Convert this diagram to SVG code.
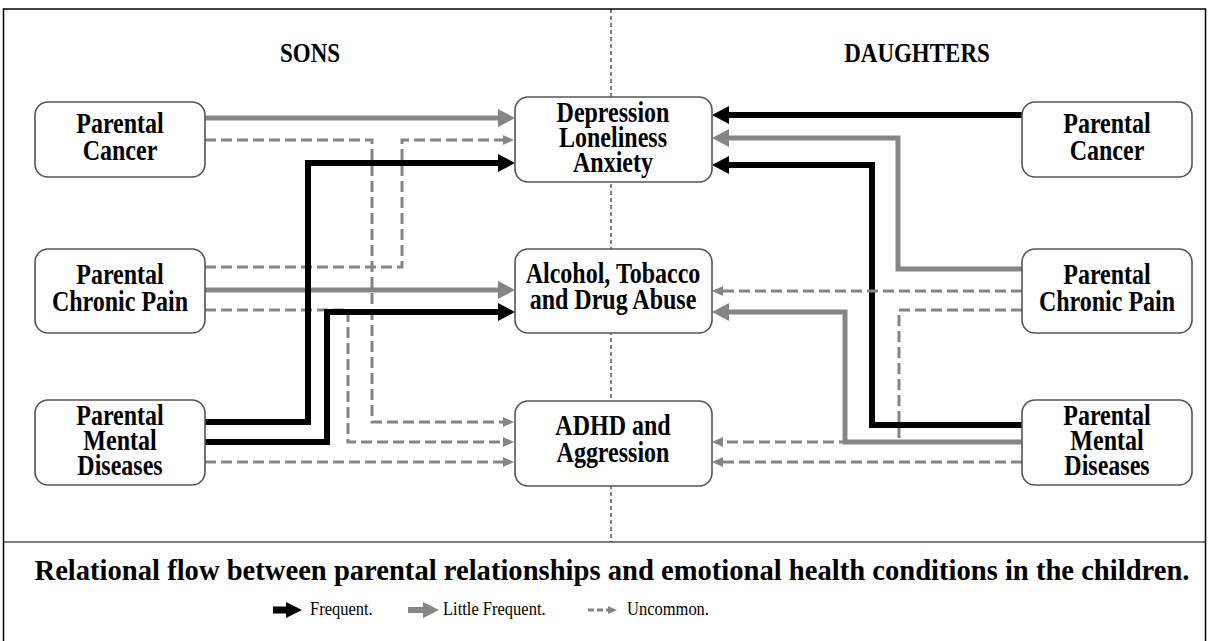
<svg xmlns="http://www.w3.org/2000/svg" width="1209" height="641" viewBox="0 0 1209 641">
<style>
.box{fill:#fff;stroke:#555;stroke-width:1.6}
.t{font-family:"Liberation Serif","Times New Roman",serif;font-weight:bold;font-size:24px;text-anchor:middle;fill:#000}
.h{font-family:"Liberation Serif","Times New Roman",serif;font-weight:bold;font-size:23px;text-anchor:middle;fill:#000}
.cap{font-family:"Liberation Serif","Times New Roman",serif;font-weight:bold;font-size:25px;text-anchor:middle;fill:#000}
.lg{font-family:"Liberation Serif","Times New Roman",serif;font-size:16.5px;fill:#000}
.blk{fill:none;stroke:#000;stroke-width:6;marker-end:url(#ab)}
.gry{fill:none;stroke:#858585;stroke-width:5;marker-end:url(#ag)}
.dsh{fill:none;stroke:#858585;stroke-width:3;stroke-dasharray:11 5;marker-end:url(#ad)}
</style>
<defs>
<marker id="ab" markerUnits="userSpaceOnUse" markerWidth="17" markerHeight="18" refX="0" refY="9" orient="auto"><path d="M0,0 L17,9 L0,18 z" fill="#000"/></marker>
<marker id="ag" markerUnits="userSpaceOnUse" markerWidth="17" markerHeight="18" refX="0" refY="9" orient="auto"><path d="M0,0 L17,9 L0,18 z" fill="#858585"/></marker>
<marker id="ad" markerUnits="userSpaceOnUse" markerWidth="11" markerHeight="10" refX="0" refY="5" orient="auto"><path d="M0,0 L11,5 L0,10 z" fill="#858585"/></marker>
</defs>
<rect width="1209" height="641" fill="#fff"/>
<g id="frame">
<rect x="3.5" y="9" width="1202" height="640" fill="none" stroke="#000" stroke-width="1.5"/>
<line x1="3.5" y1="542" x2="1205.5" y2="542" stroke="#000" stroke-width="1.2"/>
<line x1="611" y1="9" x2="611" y2="542" stroke="#000" stroke-width="1" stroke-dasharray="4 3"/>
<text class="h" x="310" y="51.67" transform="scale(1 1.2)">SONS</text>
<text class="h" x="917" y="51.67" transform="scale(1 1.2)">DAUGHTERS</text>
</g>
<g id="connectors">
<!-- sons -->
<path class="gry" d="M205,118 H498"/>
<path class="dsh" d="M205,140 H372 V422 H503"/>
<path class="dsh" d="M205,267 H402 V140 H503"/>
<path class="gry" d="M205,290 H498"/>
<path class="dsh" d="M205,310 H348 V442 H503"/>
<path class="blk" d="M205,422 H308 V163 H498"/>
<path class="blk" d="M205,442 H327 V312 H498"/>
<path class="dsh" d="M205,462 H503"/>
<!-- daughters -->
<path class="blk" d="M1022,115 H729"/>
<path class="dsh" d="M1022,310 H899 V442 H723"/>
<path class="gry" d="M1022,269 H898 V138 H729"/>
<path class="blk" d="M1022,425 H872 V165 H729"/>
<path class="dsh" d="M1022,291 H723"/>
<path class="gry" d="M1022,442 H845 V312 H729"/>
<path class="dsh" d="M1022,462 H723"/>
</g>
<g id="sons-cancer"><rect class="box" x="35" y="102" width="170" height="75" rx="13"/>
<text class="t" x="120" y="110.83" transform="scale(1 1.2)">Parental</text><text class="t" x="120" y="133.33" transform="scale(1 1.2)">Cancer</text></g>
<g id="sons-pain"><rect class="box" x="35" y="249" width="170" height="84" rx="13"/>
<text class="t" x="120" y="236.67" transform="scale(1 1.2)">Parental</text><text class="t" x="120" y="259.17" transform="scale(1 1.2)">Chronic Pain</text></g>
<g id="sons-mental"><rect class="box" x="35" y="400" width="170" height="85" rx="13"/>
<text class="t" x="120" y="354.17" transform="scale(1 1.2)">Parental</text><text class="t" x="120" y="375" transform="scale(1 1.2)">Mental</text><text class="t" x="120" y="395.83" transform="scale(1 1.2)">Diseases</text></g>
<g id="depression"><rect class="box" x="515" y="97" width="197" height="85" rx="13"/>
<text class="t" x="613" y="101.67" transform="scale(1 1.2)">Depression</text><text class="t" x="613" y="122.5" transform="scale(1 1.2)">Loneliness</text><text class="t" x="613" y="143.33" transform="scale(1 1.2)">Anxiety</text></g>
<g id="abuse"><rect class="box" x="515" y="249" width="197" height="84" rx="13"/>
<text class="t" x="613" y="235.83" transform="scale(1 1.2)">Alcohol, Tobacco</text><text class="t" x="613" y="257.5" transform="scale(1 1.2)">and Drug Abuse</text></g>
<g id="adhd"><rect class="box" x="515" y="401" width="197" height="85" rx="13"/>
<text class="t" x="613" y="362.5" transform="scale(1 1.2)">ADHD and</text><text class="t" x="613" y="385" transform="scale(1 1.2)">Aggression</text></g>
<g id="daughters-cancer"><rect class="box" x="1022" y="102" width="170" height="75" rx="13"/>
<text class="t" x="1107" y="110.83" transform="scale(1 1.2)">Parental</text><text class="t" x="1107" y="133.33" transform="scale(1 1.2)">Cancer</text></g>
<g id="daughters-pain"><rect class="box" x="1022" y="249" width="170" height="84" rx="13"/>
<text class="t" x="1107" y="236.67" transform="scale(1 1.2)">Parental</text><text class="t" x="1107" y="259.17" transform="scale(1 1.2)">Chronic Pain</text></g>
<g id="daughters-mental"><rect class="box" x="1022" y="400" width="170" height="85" rx="13"/>
<text class="t" x="1107" y="354.17" transform="scale(1 1.2)">Parental</text><text class="t" x="1107" y="375" transform="scale(1 1.2)">Mental</text><text class="t" x="1107" y="395.83" transform="scale(1 1.2)">Diseases</text></g>
<g id="legend">
<text class="cap" x="612" y="483.33" transform="scale(1 1.2)" textLength="1155" lengthAdjust="spacingAndGlyphs">Relational flow between parental relationships and emotional health conditions in the children.</text>
<path d="M273,610 H287" stroke="#000" stroke-width="7" fill="none"/><path d="M286,602 L302,610 L286,618 z" fill="#000"/>
<text class="lg" x="310" y="512.5" transform="scale(1 1.2)">Frequent.</text>
<path d="M408,610 H424" stroke="#858585" stroke-width="6" fill="none"/><path d="M423,602 L439,610 L423,618 z" fill="#858585"/>
<text class="lg" x="443" y="512.5" transform="scale(1 1.2)">Little Frequent.</text>
<path d="M588,610 H609" stroke="#858585" stroke-width="3" stroke-dasharray="6 3" fill="none"/><path d="M608,606 L617,610 L608,614 z" fill="#858585"/>
<text class="lg" x="627" y="512.5" transform="scale(1 1.2)">Uncommon.</text>
</g>
</svg>
